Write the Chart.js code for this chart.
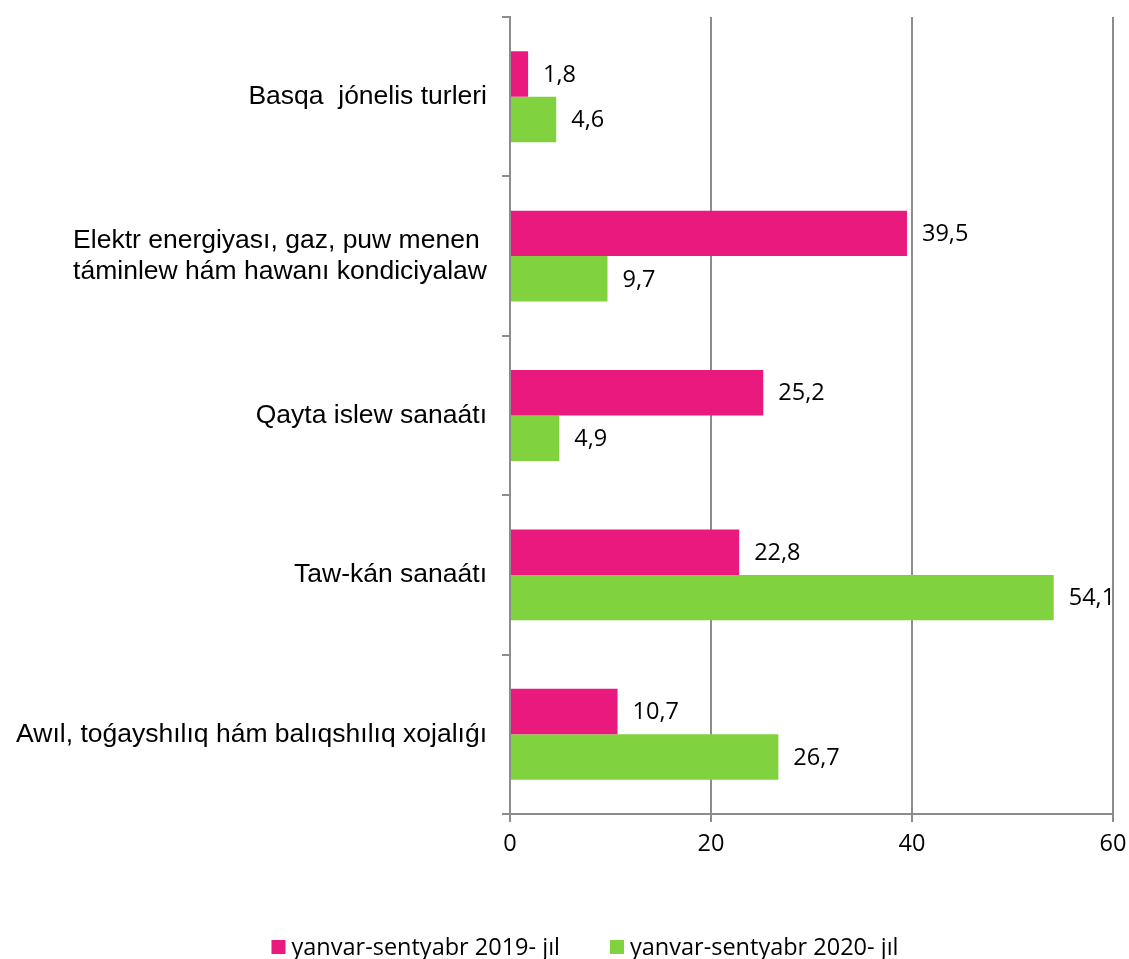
<!DOCTYPE html>
<html>
<head>
<meta charset="utf-8">
<script src="https://cdn.jsdelivr.net/npm/chart.js@4/dist/chart.umd.min.js"></script>
<style>
html,body{margin:0;padding:0;background:#fff;}
#wrap{width:1129px;height:959px;position:relative;}
</style>
</head>
<body>
<div id="wrap"><canvas id="c" width="1129" height="959"></canvas></div>
<script>
const categories = [
  "Basqa  jónelis turleri",
  ["Elektr energiyası, gaz, puw menen ", "táminlew hám hawanı kondiciyalaw"],
  "Qayta islew sanaátı",
  "Taw-kán sanaátı",
  "Awıl, toǵayshılıq hám balıqshılıq xojalıǵı"
];
const seriesNames = ["yanvar-sentyabr 2019- jıl", "yanvar-sentyabr 2020- jıl"];
const values2019 = [1.8, 39.5, 25.2, 22.8, 10.7];
const values2020 = [4.6, 9.7, 4.9, 54.1, 26.7];
const xTicks = [0, 20, 40, 60];

const PINK = '#E9197D';
const GREEN = '#81D23F';
const GRID = '#8c8c8c';
const NUM_FONT = '23.5px "Open Sans"';

const labelPlugin = {
  id: 'barLabels',
  afterDatasetsDraw(chart) {
    const ctx = chart.ctx;
    ctx.save();
    ctx.font = NUM_FONT;
    ctx.fillStyle = '#000';
    ctx.textAlign = 'left';
    ctx.textBaseline = 'middle';
    chart.data.datasets.forEach((ds, i) => {
      const meta = chart.getDatasetMeta(i);
      meta.data.forEach((bar, j) => {
        const v = ds.data[j];
        ctx.fillText(String(v).replace('.', ','), bar.x + 15, bar.y + 1);
      });
    });
    ctx.restore();
  }
};

// simple bottom legend drawn from the datasets
const legendPlugin = {
  id: 'bottomLegend',
  afterDraw(chart) {
    const ctx = chart.ctx;
    ctx.save();
    ctx.font = NUM_FONT;
    ctx.textBaseline = 'middle';
    ctx.textAlign = 'left';
    const box = 14, gapBox = 6, gapItem = 50;
    const items = chart.data.datasets.map(ds => ({ text: ds.label, color: ds.backgroundColor, w: ctx.measureText(ds.label).width }));
    const total = items.reduce((s, it) => s + box + gapBox + it.w, 0) + gapItem * (items.length - 1);
    const cx = 585, cy = 947;
    let x = cx - total / 2;
    items.forEach(it => {
      ctx.fillStyle = it.color;
      ctx.fillRect(x, cy - box / 2, box, box);
      ctx.fillStyle = '#000';
      ctx.fillText(it.text, x + box + gapBox, cy + 1);
      x += box + gapBox + it.w + gapItem;
    });
    ctx.restore();
  }
};

new Chart(document.getElementById('c'), {
  type: 'bar',
  data: {
    labels: categories,
    datasets: [
      { label: seriesNames[0], data: values2019, backgroundColor: PINK, borderWidth: 0 },
      { label: seriesNames[1], data: values2020, backgroundColor: GREEN, borderWidth: 0 }
    ]
  },
  options: {
    indexAxis: 'y',
    responsive: false,
    animation: false,
    devicePixelRatio: 1,
    layout: { padding: { top: 17, right: 16, left: 0, bottom: 0 } },
    datasets: { bar: { categoryPercentage: 0.57, barPercentage: 1.0 } },
    scales: {
      x: {
        min: 0, max: 60,
        afterBuildTicks(scale) { scale.ticks = xTicks.map(v => ({ value: v })); },
        afterFit(scale) { scale.height = 145; scale.paddingLeft = 0; scale.paddingRight = 0; },
        grid: { color: GRID, lineWidth: 2, tickLength: 8, drawOnChartArea: true },
        border: { color: GRID, width: 2 },
        ticks: { color: '#000', font: { family: '"Open Sans"', size: 23.5 }, padding: 8 }
      },
      y: {
        afterFit(scale) { scale.width = 510; scale.paddingTop = 0; scale.paddingBottom = 0; },
        grid: { offset: true, drawOnChartArea: false, color: GRID, lineWidth: 2, tickLength: 8 },
        border: { color: GRID, width: 2 },
        ticks: { color: '#000', font: { family: '"Liberation Sans", Arial', size: 26.5, lineHeight: 1.15 }, padding: 15, autoSkip: false }
      }
    },
    plugins: {
      legend: { display: false },
      tooltip: { enabled: false }
    }
  },
  plugins: [labelPlugin, legendPlugin]
});
</script>
</body>
</html>
